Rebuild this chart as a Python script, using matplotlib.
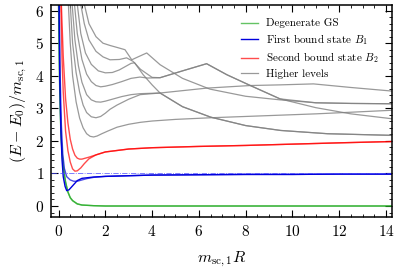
import numpy as np
import matplotlib
matplotlib.use("Agg")
import matplotlib.pyplot as plt
from matplotlib.ticker import MultipleLocator

plt.rcParams['font.family'] = 'serif'
plt.rcParams['font.serif'] = ['cmr10', 'DejaVu Serif']
plt.rcParams['mathtext.fontset'] = 'cm'
plt.rcParams['axes.formatter.use_mathtext'] = True

# degenerate ground state (two curves)
gs_x = [0.0, 0.05, 0.1, 0.15, 0.2, 0.25, 0.3, 0.4, 0.5, 0.6, 0.8, 1.0, 1.5, 2, 4, 6, 8, 10, 12, 14.25]
gs1_y = [6.2, 3.5, 2.2, 1.6, 1.2, 0.95, 0.72, 0.42, 0.25, 0.16, 0.06, 0.03, 0.01, 0, 0, 0, 0, 0, 0, 0]
gs2_y = [6.2, 3.6, 2.3, 1.65, 1.25, 0.98, 0.75, 0.44, 0.26, 0.17, 0.07, 0.03, 0.01, 0, 0, 0, 0, 0, 0, 0]

# first bound state B1
b1a_x = [0.02, 0.05, 0.1, 0.15, 0.2, 0.28, 0.35, 0.45, 0.6, 0.8, 1.0, 1.5, 2, 3, 4, 6, 8, 10, 12, 14.25]
b1a_y = [6.2, 4.0, 2.3, 1.4, 0.9, 0.6, 0.47, 0.5, 0.62, 0.78, 0.85, 0.89, 0.91, 0.93, 0.95, 0.96, 0.97, 0.97, 0.98, 0.98]
b1b_x = [0.03, 0.07, 0.12, 0.18, 0.25, 0.35, 0.5, 0.65, 0.8, 0.95, 1.2, 1.5, 2, 3, 4, 6, 8, 10, 12, 14.25]
b1b_y = [6.2, 4.0, 2.5, 1.6, 1.15, 0.9, 0.8, 0.76, 0.76, 0.79, 0.84, 0.88, 0.91, 0.93, 0.95, 0.96, 0.97, 0.97, 0.98, 0.98]

# second bound state B2
b2a_x = [0.1, 0.15, 0.2, 0.3, 0.4, 0.5, 0.6, 0.7, 0.8, 0.95, 1.1, 1.3, 1.6, 2, 3, 4, 6, 8, 10, 12, 14.25]
b2a_y = [6.2, 4.5, 3.5, 2.3, 1.7, 1.35, 1.14, 1.07, 1.08, 1.17, 1.3, 1.45, 1.57, 1.66, 1.75, 1.79, 1.83, 1.86, 1.9, 1.94, 1.98]
b2b_x = [0.12, 0.2, 0.3, 0.4, 0.5, 0.6, 0.7, 0.8, 0.9, 1.0, 1.15, 1.3, 1.6, 2, 3, 4, 6, 8, 10, 12, 14.25]
b2b_y = [6.2, 4.6, 3.3, 2.55, 2.05, 1.75, 1.56, 1.47, 1.44, 1.44, 1.47, 1.5, 1.57, 1.66, 1.75, 1.79, 1.83, 1.86, 1.9, 1.94, 1.98]

# higher levels
g1_x = [0.42, 0.5, 0.6, 0.75, 0.9, 1.05, 1.2, 1.35, 1.5, 1.65, 1.85, 2.1, 2.5, 3.0, 3.5, 4.0, 5.0, 6.5, 8.0, 9.5, 11.0, 12.5, 14.25]
g1_y = [6.2, 5.0, 4.0, 3.2, 2.7, 2.4, 2.22, 2.14, 2.12, 2.15, 2.22, 2.3, 2.42, 2.51, 2.57, 2.61, 2.66, 2.71, 2.75, 2.79, 2.83, 2.88, 2.94]
g2_x = [0.5, 0.6, 0.75, 0.9, 1.05, 1.2, 1.4, 1.6, 1.8, 2.0, 2.2, 2.5, 3.0, 3.49, 4.34, 6.33, 8.2, 9.47, 10.9, 12.5, 14.25]
g2_y = [6.2, 5.0, 4.1, 3.5, 3.1, 2.87, 2.74, 2.71, 2.75, 2.85, 2.97, 3.1, 3.28, 3.42, 3.47, 3.62, 3.70, 3.72, 3.75, 3.64, 3.53]
g3_x = [0.58, 0.7, 0.85, 1.0, 1.2, 1.4, 1.6, 1.8, 2.0, 2.3, 2.7, 3.1, 3.5, 3.9, 4.34, 5.3, 6.5, 8.0, 9.5, 11.5, 14.25]
g3_y = [6.2, 5.1, 4.3, 3.8, 3.42, 3.26, 3.2, 3.19, 3.22, 3.28, 3.36, 3.42, 3.45, 3.46, 3.47, 3.05, 2.73, 2.47, 2.32, 2.22, 2.17]
g4_x = [0.68, 0.8, 1.0, 1.2, 1.4, 1.6, 1.8, 2.0, 2.3, 2.7, 3.1, 3.48, 3.8, 4.34, 5.3, 6.33, 7.2, 8.2, 9.47, 11.0, 12.5, 14.25]
g4_y = [6.2, 5.3, 4.5, 4.05, 3.82, 3.7, 3.66, 3.68, 3.73, 3.82, 3.92, 3.96, 3.93, 3.94, 4.15, 4.37, 4.03, 3.70, 3.29, 3.02, 2.83, 2.68]
g5_x = [0.8, 0.95, 1.15, 1.4, 1.7, 2.0, 2.3, 2.6, 2.9, 3.1, 3.25, 3.4, 3.62, 4.0, 4.34, 5.3, 6.5, 8.0, 9.5, 11.5, 14.25]
g5_y = [6.2, 5.3, 4.7, 4.35, 4.15, 4.09, 4.1, 4.18, 4.3, 4.38, 4.4, 4.25, 4.03, 3.72, 3.47, 3.05, 2.73, 2.47, 2.32, 2.22, 2.17]
g6_x = [0.95, 1.1, 1.3, 1.6, 1.9, 2.2, 2.6, 2.91, 3.19, 3.5, 4.0, 4.34, 5.3, 6.33, 7.2, 8.2, 9.47, 11.0, 12.5, 14.25]
g6_y = [6.2, 5.6, 5.1, 4.75, 4.58, 4.49, 4.5, 4.55, 4.44, 4.2, 3.95, 3.94, 4.15, 4.37, 4.03, 3.70, 3.29, 3.17, 3.15, 3.14]
g7_x = [1.1, 1.3, 1.6, 1.9, 2.2, 2.5, 2.84, 3.13, 3.4, 3.77, 4.34, 5.3, 6.47, 8.0, 9.47, 11.0, 12.5, 14.25]
g7_y = [6.2, 5.6, 5.2, 5.0, 4.93, 4.87, 4.8, 4.49, 4.58, 4.70, 4.34, 3.92, 3.59, 3.37, 3.26, 3.17, 3.15, 3.14]

higher = [(g1_x, g1_y), (g2_x, g2_y), (g3_x, g3_y), (g4_x, g4_y),
          (g5_x, g5_y), (g6_x, g6_y), (g7_x, g7_y)]

fig = plt.figure(figsize=(3.99, 2.68), dpi=100)
ax = fig.add_axes([0.128, 0.19, 0.854, 0.791])

ax.plot(gs_x, gs1_y, color='#22aa22', alpha=0.7, lw=1.0, label='Degenerate GS')
ax.plot(gs_x, gs2_y, color='#22aa22', alpha=0.7, lw=1.0)
ax.plot(b1a_x, b1a_y, color='#0000dd', lw=1.0, label='First bound state $B_1$')
ax.plot(b1b_x, b1b_y, color='#0000dd', alpha=0.7, lw=1.0)
ax.plot(b2a_x, b2a_y, color='red', alpha=0.7, lw=1.0, label='Second bound state $B_2$')
ax.plot(b2b_x, b2b_y, color='red', alpha=0.7, lw=1.0)
for i, (gx, gy) in enumerate(higher):
    ax.plot(gx, gy, color='gray', alpha=0.8, lw=0.9,
            label='Higher levels' if i == 0 else None)
ax.axhline(1.0, color='#4444ff', ls='-.', lw=0.6, alpha=0.8)

ax.set_xlim(-0.32, 14.25)
ax.set_ylim(-0.34, 6.17)
ax.xaxis.set_major_locator(MultipleLocator(2))
ax.xaxis.set_minor_locator(MultipleLocator(0.5))
ax.yaxis.set_major_locator(MultipleLocator(1))
ax.yaxis.set_minor_locator(MultipleLocator(0.2))
ax.tick_params(which='both', direction='in', top=True, right=True, labelsize=11)
ax.tick_params(which='major', length=5, width=0.8, pad=5)
ax.tick_params(which='minor', length=2.5, width=0.6)
for s in ax.spines.values():
    s.set_linewidth(1.1)

ax.set_xlabel(r'$m_{\rm sc,1}R$', fontsize=11.5, labelpad=8)
ax.set_ylabel(r'$(E-E_0)/m_{\rm sc,1}$', fontsize=11.5, labelpad=4)

ax.legend(loc='upper right', frameon=False, fontsize=8, handlelength=1.5,
          handletextpad=0.7, labelspacing=0.32, borderaxespad=0.8)

fig.savefig('out.png', dpi=100)
